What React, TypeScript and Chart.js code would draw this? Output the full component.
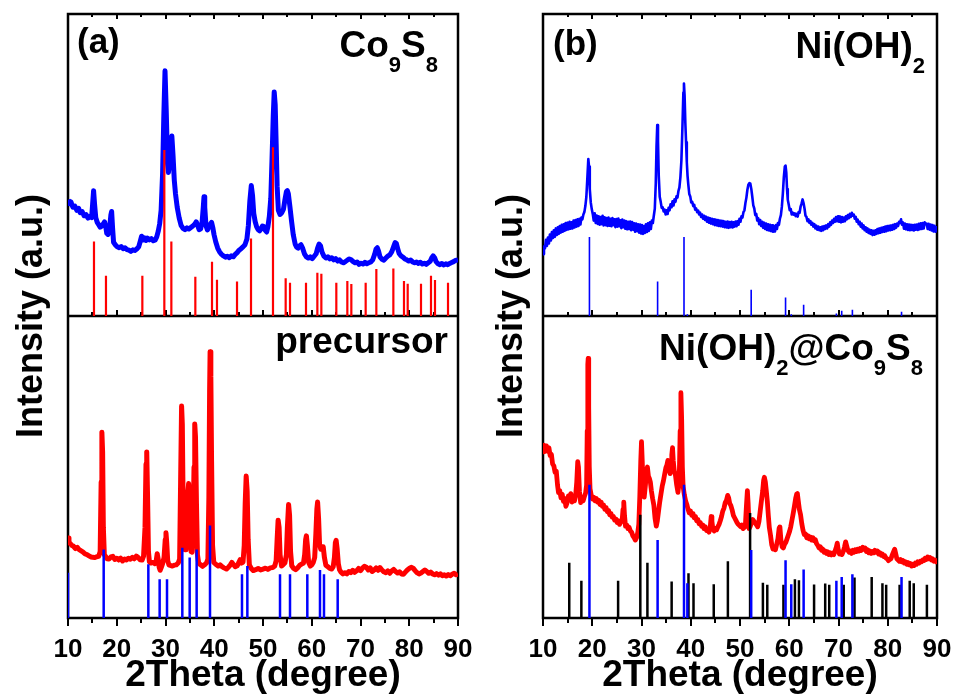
import React, { useEffect, useRef } from "react";
import { Chart, registerables } from "chart.js";

Chart.register(...registerables);

const FONT = "'Liberation Sans', Arial, Helvetica, sans-serif";

// ---------- axes ----------
const xTicks = [10, 15, 20, 25, 30, 35, 40, 45, 50, 55, 60, 65, 70, 75, 80, 85, 90];
const xTickLabels = ["10", "20", "30", "40", "50", "60", "70", "80", "90"];
const xTitle = "2Theta (degree)";
const yTitle = "Intensity (a.u.)";

// ---------- panel (a) ----------
const co9s8Curve: [number, number][] = [
  [10.0,38.5],[10.3,37.2],[10.6,37.8],[11.0,36.0],[11.4,36.4],[11.8,35.0],[12.2,35.6],[12.5,34.2],[12.9,34.6],[13.3,33.2],[13.7,33.6],[14.1,32.4],[14.5,33.0],[14.85,32.6],[15.05,37],[15.25,41.5],[15.45,37],[15.7,32.5],[16.0,31.0],[16.3,30.2],[16.6,29.4],[16.9,29.8],[17.2,30.4],[17.5,31.2],[17.75,29.5],[17.95,27.4],[18.2,27.0],[18.5,28.5],[18.8,33.5],[18.95,34.6],[19.15,29],[19.35,24.4],[19.7,23.6],[20.1,22.9],[20.5,22.6],[20.9,23.0],[21.3,22.3],[21.7,22.6],[22.1,22.0],[22.5,21.8],[22.9,21.4],[23.3,21.9],[23.7,21.7],[24.1,22.2],[24.5,22.9],[24.8,24.6],[25.1,26.4],[25.4,25.2],[25.7,25.9],[26.0,25.0],[26.3,25.8],[26.7,25.2],[27.1,25.6],[27.5,24.9],[27.9,25.2],[28.2,26.2],[28.5,28.0],[28.8,30.5],[29.1,35],[29.4,47],[29.65,66],[29.9,81.2],[30.15,68],[30.4,52],[30.6,47.5],[30.85,51],[31.1,58],[31.3,59.6],[31.55,53],[31.8,45],[32.05,40.5],[32.4,36],[32.8,32.5],[33.2,30],[33.6,29],[34.0,28.6],[34.4,29.2],[34.8,28.8],[35.2,29.3],[35.6,29.8],[36.0,30.4],[36.3,31.2],[36.6,30.0],[36.9,28.6],[37.2,28.8],[37.5,31.0],[37.75,36],[37.9,39.5],[38.05,36],[38.3,30],[38.6,28.5],[38.9,29.6],[39.2,30.4],[39.45,31.0],[39.7,29.3],[39.95,27.0],[40.3,24.6],[40.7,22.5],[41.1,21.2],[41.5,20.4],[41.9,19.9],[42.3,19.5],[42.7,19.8],[43.1,19.3],[43.5,19.9],[43.9,19.6],[44.3,20.4],[44.7,21.0],[45.1,21.8],[45.5,22.3],[45.9,22.9],[46.3,23.6],[46.7,25.5],[47.0,30],[47.3,38],[47.6,43.2],[47.85,40],[48.1,34],[48.4,31.2],[48.7,29.5],[49.0,28.6],[49.3,28.2],[49.6,28.9],[49.9,29.8],[50.15,29.6],[50.45,28.4],[50.75,27.8],[51.0,29.5],[51.3,33],[51.6,39],[51.85,52],[52.1,66],[52.3,74.2],[52.5,70],[52.7,57],[52.9,43],[53.15,35],[53.5,33.6],[53.85,34.2],[54.2,35.4],[54.5,38.5],[54.8,41.2],[55.0,41.5],[55.2,40.5],[55.5,36.5],[55.85,31.5],[56.2,27],[56.6,23.8],[56.9,22.8],[57.2,22.5],[57.5,23.2],[57.8,23.6],[58.1,22.6],[58.5,20.6],[58.9,19.6],[59.3,19.2],[59.7,19.6],[60.1,19.0],[60.5,19.8],[60.9,20.6],[61.2,22.5],[61.5,23.8],[61.8,23.2],[62.1,21.2],[62.5,19.8],[62.9,19.2],[63.3,19.6],[63.7,18.9],[64.1,19.3],[64.5,18.6],[64.9,19.0],[65.3,18.2],[65.7,18.6],[66.1,17.9],[66.5,17.6],[66.9,18.0],[67.3,18.5],[67.7,18.9],[68.1,18.6],[68.5,18.0],[68.9,17.6],[69.3,17.9],[69.7,17.1],[70.1,17.5],[70.5,17.2],[70.9,17.8],[71.3,17.3],[71.7,17.6],[72.1,17.9],[72.5,18.6],[72.9,20.4],[73.2,22.2],[73.45,22.6],[73.7,21.5],[74.0,19.6],[74.4,18.8],[74.8,18.5],[75.2,19.2],[75.6,19.8],[76.0,20.2],[76.4,21.2],[76.8,23.0],[77.1,24.3],[77.35,24.0],[77.6,22.5],[77.9,20.8],[78.3,19.9],[78.7,19.5],[79.1,18.9],[79.5,18.6],[79.9,18.2],[80.3,18.5],[80.7,17.9],[81.1,17.6],[81.5,17.9],[81.9,17.4],[82.3,17.8],[82.7,17.2],[83.1,17.5],[83.5,17.1],[83.9,17.6],[84.3,18.1],[84.6,19.2],[84.9,19.9],[85.2,19.3],[85.5,18.0],[85.9,17.3],[86.3,17.0],[86.7,17.4],[87.1,16.9],[87.5,17.3],[87.9,17.0],[88.3,17.4],[88.7,17.7],[89.1,18.0],[89.5,18.4],[90.0,18.6]
];

const precursorCurve: [number, number][] = [
  [10.0,26.5],[10.2,25.0],[10.5,24.6],[10.8,24.0],[11.1,23.8],[11.5,23.0],[11.9,23.4],[12.3,22.6],[12.7,22.2],[13.1,21.8],[13.5,21.2],[13.9,21.0],[14.3,20.6],[14.7,20.2],[15.1,20.1],[15.5,20.0],[15.9,20.3],[16.3,20.4],[16.6,22],[16.8,45],[16.95,61.5],[17.1,55],[17.25,30],[17.45,21],[17.7,20.4],[18.0,19.6],[18.4,19.5],[18.8,20.2],[19.2,20.4],[19.6,19.4],[20.0,19.8],[20.4,19.2],[20.8,19.8],[21.2,18.9],[21.6,19.5],[22.0,19.2],[22.4,19.8],[22.8,19.5],[23.2,20.1],[23.6,19.6],[24.0,20.5],[24.4,20.0],[24.8,19.3],[25.2,19.2],[25.5,20.5],[25.8,30],[26.0,51],[26.15,55.0],[26.3,42],[26.5,22],[26.7,18.6],[27.0,18.2],[27.4,18.4],[27.8,18.0],[28.1,19.0],[28.3,21.3],[28.5,19.5],[28.7,16.8],[28.9,15.8],[29.1,16.6],[29.4,18.0],[29.7,20],[29.95,26],[30.1,28.2],[30.25,25],[30.45,19],[30.7,17.6],[31.0,17.4],[31.4,17.2],[31.8,17.5],[32.2,17.6],[32.6,18.2],[32.9,19.5],[33.1,45],[33.3,70.2],[33.45,64],[33.6,40],[33.8,26],[34.0,22.6],[34.2,24],[34.45,33],[34.6,42],[34.75,44.5],[34.9,40],[35.05,30],[35.25,22],[35.45,21.8],[35.65,28],[35.85,50],[36.0,64.2],[36.15,60],[36.35,38],[36.55,21],[36.8,18.2],[37.2,17.6],[37.6,17.1],[38.0,17.6],[38.4,18.2],[38.7,19.5],[38.9,40],[39.05,75],[39.15,88.2],[39.3,80],[39.45,52],[39.65,24],[39.9,18.4],[40.3,17.8],[40.8,17.2],[41.2,17.6],[41.6,17.0],[42.0,16.6],[42.5,16.2],[42.9,16.8],[43.3,17.6],[43.6,18.4],[43.9,17.8],[44.3,17.0],[44.7,17.3],[45.0,18.2],[45.3,19.3],[45.6,18.2],[45.9,18.5],[46.15,24],[46.35,38],[46.55,47.0],[46.75,42],[46.95,26],[47.2,17.6],[47.6,16.4],[48.0,15.7],[48.5,16.0],[49.0,16.4],[49.5,15.9],[50.0,16.2],[50.5,16.5],[51.0,16.1],[51.5,16.6],[52.0,16.7],[52.4,17.2],[52.7,19],[52.9,26],[53.1,32.4],[53.3,30],[53.5,21],[53.8,17.2],[54.1,17.6],[54.5,18.3],[54.8,21],[55.0,30],[55.25,37.6],[55.45,34],[55.65,22],[55.9,17.3],[56.3,16.4],[56.7,16.0],[57.1,16.6],[57.5,17.4],[57.9,17.8],[58.3,18.2],[58.55,21],[58.75,26],[58.9,27.2],[59.1,24],[59.35,18.5],[59.7,17.2],[60.0,17.6],[60.3,18.4],[60.6,20],[60.85,28],[61.05,36],[61.2,38.4],[61.4,33],[61.6,24.5],[61.85,22.8],[62.1,23.6],[62.35,23.6],[62.6,20],[62.9,17.5],[63.3,17.0],[63.7,16.4],[64.1,16.2],[64.4,17.0],[64.65,20],[64.85,25],[65.0,25.7],[65.2,23],[65.45,18],[65.7,16.0],[66.0,15.2],[66.4,14.6],[66.8,15.0],[67.2,14.6],[67.6,15.4],[68.0,15.0],[68.4,15.8],[68.8,15.1],[69.2,15.6],[69.6,16.4],[70.0,15.7],[70.4,16.5],[70.8,17.1],[71.2,16.8],[71.6,15.9],[72.0,16.6],[72.4,15.4],[72.8,15.9],[73.2,16.6],[73.6,15.8],[74.0,16.7],[74.4,15.9],[74.8,15.3],[75.2,15.0],[75.6,15.6],[76.0,14.8],[76.4,15.6],[76.8,16.1],[77.2,15.4],[77.6,14.9],[78.0,15.3],[78.4,14.6],[78.8,14.5],[79.2,15.2],[79.6,15.9],[80.0,16.4],[80.4,16.8],[80.8,16.5],[81.2,15.7],[81.6,15.0],[82.0,14.6],[82.4,14.9],[82.8,15.4],[83.2,15.9],[83.6,15.4],[84.0,14.8],[84.4,15.2],[84.8,14.6],[85.2,14.3],[85.6,14.7],[86.0,14.2],[86.4,14.6],[86.8,14.0],[87.2,14.3],[87.6,13.9],[88.0,14.4],[88.4,14.0],[88.8,14.5],[89.2,14.8],[89.6,14.3],[90.0,14.6]
];

const co9s8RefPos = [15.33,17.79,25.25,29.76,31.2,36.12,39.54,40.56,44.67,47.54,52.05,54.65,55.54,58.82,61.15,61.97,65.04,67.3,68.12,71.06,73.25,76.74,78.92,79.68,82.41,84.46,85.28,87.95];
const co9s8RefA = [24.7,13.3,13.3,55.0,24.7,13.0,18.0,12.0,11.4,25.7,55.9,12.5,11.0,11.0,14.3,14.0,11.0,11.6,10.6,11.0,15.6,15.7,11.6,10.7,10.7,13.3,11.9,11.0];
const precursorRefPos = [10.0,17.32,26.48,28.8,30.31,33.45,34.96,36.39,39.13,45.69,46.79,53.49,55.54,59.09,61.69,62.51,65.32];
const precursorRefH = [15.0,22.7,17.8,12.8,12.8,23.3,20.0,22.7,30.6,14.5,17.2,14.5,14.5,14.5,15.9,14.5,12.8];

// ---------- panel (b) ----------
const niCurve: [number, number][] = [
  [10.0,20.5],[10.2,23.0],[10.4,22.4],[10.6,25.2],[10.8,23.2],[11.0,26.0],[11.2,24.0],[11.4,27.0],[11.6,25.0],[11.8,27.8],[12.0,25.8],[12.2,28.4],[12.4,26.2],[12.6,29.0],[12.8,26.8],[13.0,29.4],[13.2,27.2],[13.4,29.8],[13.6,27.6],[13.8,30.2],[14.0,27.9],[14.2,30.4],[14.4,28.2],[14.6,30.8],[14.8,28.5],[15.0,30.9],[15.2,28.7],[15.4,31.2],[15.6,28.9],[15.8,31.0],[16.0,29.0],[16.2,31.6],[16.4,29.3],[16.6,31.8],[16.8,29.6],[17.0,32.0],[17.2,29.8],[17.4,32.2],[17.6,30.3],[17.8,32.6],[18.0,32.0],[18.2,33.6],[18.4,34.4],[18.6,36.4],[18.8,39.4],[19.0,45.5],[19.2,52.0],[19.35,49.5],[19.5,42.0],[19.7,37.6],[19.9,35.4],
  [20.1,33.8],[20.3,31.6],[20.5,34.0],[20.7,30.8],[20.9,33.3],[21.1,30.5],[21.3,33.0],[21.5,30.2],[21.7,32.8],[21.9,30.4],[22.1,33.2],[22.3,30.0],[22.5,32.7],[22.7,30.1],[22.9,32.4],[23.1,29.8],[23.3,32.6],[23.5,29.9],[23.7,32.2],[23.9,29.7],[24.1,32.4],[24.3,30.1],[24.5,32.0],[24.7,29.4],[24.9,32.1],[25.1,29.6],[25.3,32.3],[25.5,29.7],[25.7,31.7],[25.9,29.1],[26.1,31.9],[26.3,29.4],[26.5,31.6],[26.7,28.9],[26.9,31.4],[27.1,28.7],[27.3,31.2],[27.5,28.8],[27.7,31.3],[27.9,28.4],[28.1,31.1],[28.3,28.6],[28.5,30.7],[28.7,27.9],[28.9,30.6],[29.1,28.1],[29.3,30.4],[29.5,27.6],[29.7,30.3],[29.9,27.3],[30.1,30.1],[30.3,27.2],[30.5,29.8],[30.7,27.5],[30.9,30.4],[31.1,27.8],[31.3,30.7],[31.5,28.2],[31.7,31.0],[31.9,28.8],[32.1,31.6],[32.3,30.8],[32.5,33.2],
  [32.7,35.5],[32.9,44.0],[33.05,56.0],[33.2,63.2],[33.35,58.0],[33.5,46.5],[33.7,39.5],[33.9,37.8],[34.1,35.8],[34.3,36.0],[34.5,34.6],[34.7,35.2],[34.9,33.6],[35.1,35.0],[35.3,33.8],[35.5,35.8],[35.7,35.0],[35.9,37.0],[36.1,36.0],[36.3,38.0],[36.5,36.6],[36.7,38.6],[36.9,37.8],[37.1,39.6],[37.3,39.2],[37.5,41.4],[37.7,42.6],[37.9,46.0],[38.1,51.5],[38.3,62.0],[38.5,74.0],[38.62,77.0],[38.75,73.0],[38.9,64.0],[39.05,57.5],[39.2,51.0],[39.35,46.4],[39.5,43.6],[39.7,40.4],[39.9,39.6],[40.1,37.6],[40.3,37.8],[40.5,36.4],[40.7,36.8],[40.9,35.2],[41.1,35.6],[41.3,34.4],[41.5,34.9],[41.7,33.6],[41.9,34.2],[42.1,32.8],[42.3,33.6],[42.5,32.2],[42.7,33.2],[42.9,31.8],[43.1,32.9],[43.3,31.2],[43.5,32.6],[43.7,30.9],[43.9,32.4],[44.1,30.6],[44.3,32.2],[44.5,30.4],[44.7,32.0],[44.9,30.1],[45.1,31.9],[45.3,30.0],[45.5,31.8],[45.7,29.8],[45.9,31.6],[46.1,29.7],[46.3,31.5],[46.5,29.6],[46.7,31.4],[46.9,29.4],[47.1,31.2],[47.3,29.3],[47.5,31.3],[47.7,29.2],[47.9,31.1],[48.1,29.4],[48.3,31.2],[48.5,29.3],[48.7,31.0],[48.9,29.6],[49.1,31.3],[49.3,29.7],[49.5,31.4],[49.7,30.2],[49.9,32.2],[50.1,31.2],[50.3,33.0],[50.5,32.6],[50.7,34.4],[50.9,35.0],[51.1,37.4],[51.3,39.2],[51.5,41.8],[51.7,43.5],[51.9,44.0],[52.1,43.8],[52.3,42.0],[52.5,39.4],[52.7,36.6],[52.9,35.6],[53.1,33.4],[53.3,33.8],[53.5,31.6],[53.7,32.4],[53.9,30.4],[54.1,31.8],[54.3,29.8],[54.5,31.2],[54.7,29.2],[54.9,30.9],[55.1,28.8],[55.3,30.6],[55.5,28.5],[55.7,30.4],[55.9,28.3],[56.1,30.2],[56.3,28.1],[56.5,30.0],[56.7,27.9],[56.9,29.8],[57.1,28.0],[57.3,30.1],[57.5,28.8],[57.7,30.8],[57.9,30.2],[58.1,32.2],[58.3,33.4],[58.5,36.2],[58.7,40.5],[58.9,46.0],[59.1,49.5],[59.25,49.8],[59.4,47.5],[59.55,42.0],[59.7,38.5],[59.9,36.8],[60.1,35.0],[60.3,35.4],[60.5,33.6],[60.7,34.2],[60.9,33.6],[61.1,34.0],[61.3,33.1],[61.5,33.8],[61.7,32.9],[61.9,34.4],[62.1,34.2],[62.3,36.2],[62.5,37.2],[62.7,38.6],[62.9,37.4],[63.1,35.6],[63.3,33.2],[63.5,32.8],[63.7,31.4],[63.9,32.0],[64.1,30.8],[64.3,31.4],[64.5,30.2],[64.7,30.8],[64.9,29.6],[65.1,30.4],[65.3,29.0],[65.5,29.9],[65.7,28.6],[65.9,29.6],[66.1,28.4],[66.3,29.4],[66.5,28.2],[66.7,29.6],[66.9,28.4],[67.1,29.8],[67.3,28.8],[67.5,30.0],[67.7,29.0],[67.9,30.4],[68.1,29.6],[68.3,31.0],[68.5,30.2],[68.7,31.6],[68.9,30.8],[69.1,32.2],[69.3,31.2],[69.5,32.8],[69.7,31.4],[69.9,33.0],[70.1,31.2],[70.3,32.9],[70.5,31.0],[70.7,32.8],[70.9,31.2],[71.1,32.6],[71.3,31.4],[71.5,33.0],[71.7,32.0],[71.9,33.4],[72.1,32.4],[72.3,33.8],[72.5,32.8],[72.7,34.2],[72.9,33.2],[73.1,33.6],[73.3,32.2],[73.5,32.8],[73.7,31.2],[73.9,31.9],[74.1,30.4],[74.3,31.2],[74.5,29.6],[74.7,30.6],[74.9,29.0],[75.1,30.0],[75.3,28.4],[75.5,29.4],[75.7,27.9],[75.9,29.0],[76.1,27.5],[76.3,28.6],[76.5,27.2],[76.7,28.4],[76.9,26.8],[77.1,28.2],[77.3,26.9],[77.5,28.4],[77.7,27.2],[77.9,28.8],[78.1,27.4],[78.3,29.0],[78.5,27.6],[78.7,29.2],[78.9,27.8],[79.1,29.4],[79.3,27.9],[79.5,29.6],[79.7,28.1],[79.9,29.8],[80.1,28.3],[80.3,29.9],[80.5,28.4],[80.7,30.0],[80.9,28.6],[81.1,30.2],[81.3,28.8],[81.5,30.4],[81.7,29.2],[81.9,30.6],[82.1,29.8],[82.3,31.2],[82.5,30.8],[82.7,32.0],[82.9,30.2],[83.1,31.0],[83.3,28.9],[83.5,30.6],[83.7,28.7],[83.9,30.4],[84.1,28.5],[84.3,30.3],[84.5,28.4],[84.7,30.2],[84.9,28.5],[85.1,30.1],[85.3,28.3],[85.5,30.2],[85.7,28.6],[85.9,30.3],[86.1,28.5],[86.3,30.5],[86.5,28.7],[86.7,30.7],[86.9,28.8],[87.1,30.8],[87.3,29.0],[87.5,31.0],[87.7,30.4],[87.9,30.6],[88.1,28.8],[88.3,30.5],[88.5,28.6],[88.7,30.3],[88.9,28.3],[89.1,30.1],[89.3,28.0],[89.5,29.9],[89.7,27.9],[89.9,29.4],[90.0,28.4]
];

const compositeCurve: [number, number][] = [
  [10.0,55.0],[10.2,57.2],[10.45,55.6],[10.7,57.0],[10.95,55.2],[11.2,56.4],[11.45,53.8],[11.7,54.2],[11.95,51.0],[12.2,50.4],[12.45,48.2],[12.7,48.6],[12.95,44.0],[13.15,41.5],[13.4,42.2],[13.65,39.8],[13.9,41.0],[14.15,38.6],[14.4,39.6],[14.65,37.0],[14.9,38.2],[15.15,40.4],[15.4,39.2],[15.65,41.2],[15.9,38.4],[16.15,40.2],[16.4,38.8],[16.65,41.0],[16.85,45.0],[17.05,51.8],[17.2,50.0],[17.4,42.0],[17.65,38.2],[17.9,39.6],[18.15,38.8],[18.4,40.2],[18.65,41.4],[18.85,44.0],[18.98,62.0],[19.1,84.0],[19.18,86.0],[19.28,70.0],[19.4,50.0],[19.55,42.8],[19.8,40.6],[20.05,39.4],[20.3,40.0],[20.55,38.8],[20.8,39.6],[21.05,38.4],[21.3,39.0],[21.55,37.6],[21.8,38.4],[22.05,37.0],[22.3,37.4],[22.55,36.0],[22.8,36.6],[23.05,35.2],[23.3,35.6],[23.55,34.2],[23.8,34.6],[24.05,33.4],[24.3,33.6],[24.55,32.4],[24.8,32.8],[25.05,31.6],[25.3,32.2],[25.55,31.0],[25.8,31.8],[26.05,32.0],[26.25,36.0],[26.4,38.4],[26.55,34.0],[26.75,30.4],[27.0,30.8],[27.25,29.6],[27.5,30.0],[27.75,28.8],[28.0,28.4],[28.25,27.2],[28.5,26.6],[28.75,25.8],[29.0,26.6],[29.25,28.4],[29.45,31.0],[29.65,40.0],[29.85,52.0],[30.0,58.4],[30.15,52.0],[30.35,42.0],[30.55,40.0],[30.8,44.0],[31.0,48.5],[31.2,50.0],[31.4,47.0],[31.6,46.2],[31.8,45.0],[32.0,42.2],[32.25,39.6],[32.5,37.4],[32.75,33.0],[33.0,30.4],[33.2,32.0],[33.45,35.2],[33.7,38.4],[33.95,41.0],[34.2,43.6],[34.45,45.4],[34.7,47.6],[34.95,49.8],[35.15,50.6],[35.35,52.2],[35.55,50.0],[35.8,47.8],[36.0,50.4],[36.15,54.0],[36.3,56.4],[36.45,52.0],[36.65,48.8],[36.9,47.2],[37.15,44.0],[37.4,41.6],[37.65,45.0],[37.85,62.0],[38.0,74.6],[38.15,66.0],[38.3,50.0],[38.45,43.6],[38.7,40.8],[38.95,38.8],[39.2,37.6],[39.45,36.0],[39.7,34.8],[39.95,35.4],[40.2,34.0],[40.45,34.6],[40.7,33.2],[40.95,33.6],[41.2,32.2],[41.45,32.6],[41.7,31.2],[41.95,31.6],[42.2,30.4],[42.45,30.8],[42.7,29.6],[42.95,30.2],[43.2,29.0],[43.45,29.2],[43.7,28.4],[43.95,30.0],[44.15,33.6],[44.3,32.0],[44.5,29.4],[44.75,28.8],[45.0,29.6],[45.25,29.2],[45.5,30.2],[45.75,31.0],[46.0,32.2],[46.25,33.6],[46.5,35.4],[46.75,36.4],[47.0,38.2],[47.25,39.0],[47.5,40.6],[47.7,39.8],[47.9,38.0],[48.15,37.2],[48.4,35.8],[48.65,34.0],[48.9,33.2],[49.15,32.4],[49.4,31.6],[49.65,31.0],[49.9,30.6],[50.15,30.2],[50.4,30.8],[50.65,29.6],[50.9,30.0],[51.1,31.0],[51.3,37.0],[51.5,42.2],[51.65,38.0],[51.85,29.6],[52.1,30.4],[52.35,31.8],[52.6,32.6],[52.85,32.0],[53.1,31.4],[53.35,30.8],[53.6,30.2],[53.85,32.0],[54.1,35.4],[54.35,38.8],[54.6,42.0],[54.8,45.6],[54.95,46.6],[55.15,45.0],[55.35,42.0],[55.55,38.6],[55.75,34.0],[55.95,30.0],[56.2,27.4],[56.45,24.2],[56.7,22.8],[56.95,23.6],[57.2,22.6],[57.45,24.4],[57.7,26.2],[57.95,29.8],[58.1,30.2],[58.3,26.0],[58.55,23.6],[58.8,23.2],[59.05,24.4],[59.3,25.0],[59.55,26.2],[59.8,27.4],[60.05,28.6],[60.3,30.2],[60.55,32.4],[60.8,34.6],[61.05,37.0],[61.3,39.6],[61.5,41.0],[61.65,41.2],[61.85,38.6],[62.05,36.0],[62.3,34.2],[62.55,31.2],[62.8,29.0],[63.05,27.6],[63.3,27.8],[63.55,26.6],[63.8,27.2],[64.05,26.2],[64.3,26.8],[64.55,25.8],[64.8,26.6],[65.05,25.6],[65.3,25.9],[65.55,24.6],[65.8,24.0],[66.05,23.2],[66.3,23.6],[66.55,22.4],[66.8,22.8],[67.05,21.8],[67.3,22.2],[67.55,21.4],[67.8,21.9],[68.05,21.0],[68.3,21.6],[68.55,20.9],[68.8,21.4],[69.05,21.0],[69.3,22.2],[69.55,23.4],[69.75,24.8],[69.95,22.6],[70.2,21.2],[70.45,21.6],[70.7,21.0],[70.95,22.0],[71.2,23.4],[71.45,25.2],[71.65,24.0],[71.9,22.4],[72.15,21.8],[72.4,22.2],[72.65,21.4],[72.9,22.4],[73.15,21.8],[73.4,22.6],[73.65,22.0],[73.9,22.8],[74.15,22.2],[74.4,23.0],[74.65,22.4],[74.9,23.4],[75.15,22.8],[75.4,23.2],[75.65,22.0],[75.9,22.6],[76.15,21.6],[76.4,22.2],[76.65,21.4],[76.9,22.0],[77.15,21.6],[77.4,22.4],[77.65,21.8],[77.9,22.2],[78.15,21.2],[78.4,21.6],[78.65,20.8],[78.9,21.2],[79.15,20.4],[79.4,20.6],[79.65,19.8],[79.9,19.6],[80.15,19.0],[80.4,19.4],[80.65,19.6],[80.9,20.8],[81.15,21.8],[81.4,22.8],[81.6,21.4],[81.85,19.6],[82.1,19.2],[82.35,18.8],[82.6,19.4],[82.85,18.6],[83.1,19.0],[83.35,18.2],[83.6,18.6],[83.85,17.8],[84.1,18.4],[84.35,17.6],[84.6,18.0],[84.85,17.2],[85.1,17.8],[85.35,17.4],[85.6,18.2],[85.85,17.8],[86.1,18.6],[86.35,18.2],[86.6,18.8],[86.85,18.6],[87.1,19.2],[87.35,19.0],[87.6,19.8],[87.85,19.4],[88.1,20.2],[88.35,19.6],[88.6,20.0],[88.85,19.2],[89.1,19.6],[89.35,18.8],[89.6,19.2],[89.85,18.6],[90.0,19.0]
];

const niRefPos = [19.43,33.27,38.63,39.31,52.27,59.25,60.41,62.92,69.57,70.65,72.82,82.8];
const niRefTop = [26.2,11.4,26.2,0.6,8.7,6.1,0.6,3.7,0.8,1.7,2.1,1.4];
const niRefBottom = [44.1,25.8,44.1,11.5,22.5,19.1,11.2,16.1,12.3,13.6,14.5,13.6];
const co9s8RefB = [18.3,12.3,12.3,34.2,18.3,12.1,14.8,11.5,11.2,18.8,34.8,11.7,11.0,11.0,12.8,12.5,11.1,11.4,11.0,11.0,13.4,13.6,11.5,11.0,11.0,12.3,11.5,11.0];

// ---------- labels ----------
type Part = [string, boolean];
const labelA = "(a)";
const labelB = "(b)";
const labelCo9S8: Part[] = [["Co", false], ["9", true], ["S", false], ["8", true]];
const labelPrecursor: Part[] = [["precursor", false]];
const labelNi: Part[] = [["Ni(OH)", false], ["2", true]];
const labelComposite: Part[] = [["Ni(OH)", false], ["2", true], ["@Co", false], ["9", true], ["S", false], ["8", true]];

// ---------- helpers ----------
function stickPoints(pos: number[], h: number[]) {
  const pts: { x: number; y: number | null }[] = [];
  pos.forEach((p, i) => {
    pts.push({ x: p, y: 0 }, { x: p, y: h[i] }, { x: p, y: null });
  });
  return pts;
}
function curvePoints(c: [number, number][]) {
  return c.map(([x, y]) => ({ x, y }));
}

function drawRich(ctx: CanvasRenderingContext2D, parts: Part[], right: number, base: number, size: number, subSize: number, drop: number) {
  const widths = parts.map(([t, sub]) => {
    ctx.font = `bold ${sub ? subSize : size}px ${FONT}`;
    return ctx.measureText(t).width;
  });
  const total = widths.reduce((a, b) => a + b, 0);
  let x = right - total;
  ctx.textAlign = "left";
  ctx.textBaseline = "alphabetic";
  parts.forEach(([t, sub], i) => {
    ctx.font = `bold ${sub ? subSize : size}px ${FONT}`;
    ctx.fillText(t, x, sub ? base + drop : base);
    x += widths[i];
  });
}

type PanelSpec = {
  letter: string;
  letterX: number;
  letterBase: number;
  topLabel: Part[];
  topRight: number;
  topBase: number;
  botLabel: Part[];
  botRight: number;
  botBase: number;
  yTitleX: number;
};

function makeDecor(spec: PanelSpec) {
  return {
    id: "decor",
    beforeDatasetsDraw(chart: any) {
      const { ctx, chartArea: a, scales } = chart;
      const xs = scales.x;
      const mid = scales.yBot.getPixelForValue(100);
      ctx.save();
      ctx.strokeStyle = "#000";
      ctx.lineWidth = 2;
      ctx.lineCap = "butt";
      for (const v of xTicks) {
        const px = Math.round(xs.getPixelForValue(v));
        const major = v % 10 === 0;
        ctx.beginPath();
        ctx.moveTo(px, a.bottom);
        ctx.lineTo(px, a.bottom + (major ? 8 : 5));
        ctx.moveTo(px, mid);
        ctx.lineTo(px, mid - (major ? 6 : 4));
        ctx.moveTo(px, a.top);
        ctx.lineTo(px, a.top + (major ? 5 : 3));
        ctx.stroke();
      }
      ctx.lineWidth = 2.5;
      ctx.strokeRect(a.left, a.top, a.right - a.left, a.bottom - a.top);
      ctx.beginPath();
      ctx.moveTo(a.left, mid);
      ctx.lineTo(a.right, mid);
      ctx.stroke();
      ctx.restore();
    },
    afterDraw(chart: any) {
      const { ctx, chartArea: a, scales } = chart;
      const xs = scales.x;
      ctx.save();
      ctx.fillStyle = "#000";
      ctx.font = `bold 26px ${FONT}`;
      ctx.textAlign = "center";
      ctx.textBaseline = "alphabetic";
      xTickLabels.forEach((t) => {
        ctx.fillText(t, xs.getPixelForValue(Number(t)), 657);
      });
      ctx.font = `bold 37px ${FONT}`;
      ctx.fillText(xTitle, (a.left + a.right) / 2, 686);
      ctx.save();
      ctx.translate(spec.yTitleX, (a.top + a.bottom) / 2);
      ctx.rotate(-Math.PI / 2);
      ctx.font = `bold 36px ${FONT}`;
      ctx.textAlign = "center";
      ctx.fillText(yTitle, 0, 0);
      ctx.restore();
      ctx.font = `bold 35px ${FONT}`;
      ctx.textAlign = "left";
      ctx.fillText(spec.letter, spec.letterX, spec.letterBase);
      drawRich(ctx, spec.topLabel, spec.topRight, spec.topBase, 37, 22, 15);
      drawRich(ctx, spec.botLabel, spec.botRight, spec.botBase, 37, 22, 15);
      ctx.restore();
    },
  };
}

function baseOptions(padLeft: number, padRight: number) {
  return {
    animation: false,
    responsive: false,
    maintainAspectRatio: false,
    devicePixelRatio: 1,
    events: [],
    layout: { padding: { left: padLeft, right: padRight, top: 14, bottom: 77 } },
    plugins: { legend: { display: false }, tooltip: { enabled: false }, title: { display: false } },
    elements: {
      point: { radius: 0, hoverRadius: 0 },
      line: { tension: 0, borderJoinStyle: "round", borderCapStyle: "butt", fill: false },
    },
    scales: {
      x: { type: "linear", min: 10, max: 90, display: false },
      yTop: { type: "linear", min: -100, max: 100, display: false },
      yBot: { type: "linear", min: 0, max: 200, display: false },
    },
  };
}

function configA() {
  return {
    type: "line",
    data: {
      datasets: [
        { label: "Co9S8 ref", data: stickPoints(co9s8RefPos, co9s8RefA), yAxisID: "yTop", borderColor: "#ff0000", borderWidth: 2.2, spanGaps: false, order: 0 },
        { label: "precursor ref", data: stickPoints(precursorRefPos, precursorRefH), yAxisID: "yBot", borderColor: "#0000ff", borderWidth: 2.5, spanGaps: false, order: 0 },
        { label: "Co9S8", data: curvePoints(co9s8Curve), yAxisID: "yTop", borderColor: "#0000ff", borderWidth: 5, order: 2 },
        { label: "precursor", data: curvePoints(precursorCurve), yAxisID: "yBot", borderColor: "#ff0000", borderWidth: 5, order: 2 },
      ],
    },
    options: baseOptions(68, 20),
    plugins: [
      makeDecor({
        letter: labelA, letterX: 77, letterBase: 53,
        topLabel: labelCo9S8, topRight: 438, topBase: 57,
        botLabel: labelPrecursor, botRight: 448, botBase: 353,
        yTitleX: 42,
      }),
    ],
  };
}

function configB() {
  return {
    type: "line",
    data: {
      datasets: [
        { label: "Ni(OH)2 ref top", data: stickPoints(niRefPos, niRefTop), yAxisID: "yTop", borderColor: "#0000ff", borderWidth: 1.6, spanGaps: false, order: 0 },
        { label: "Ni(OH)2 ref bottom", data: stickPoints(niRefPos, niRefBottom), yAxisID: "yBot", borderColor: "#0000ff", borderWidth: 2.5, spanGaps: false, order: 0 },
        { label: "Co9S8 ref bottom", data: stickPoints(co9s8RefPos, co9s8RefB), yAxisID: "yBot", borderColor: "#000000", borderWidth: 2.5, spanGaps: false, order: 1 },
        { label: "Ni(OH)2", data: curvePoints(niCurve), yAxisID: "yTop", borderColor: "#0000ff", borderWidth: 2.6, order: 2 },
        { label: "Ni(OH)2@Co9S8", data: curvePoints(compositeCurve), yAxisID: "yBot", borderColor: "#ff0000", borderWidth: 4.8, order: 2 },
      ],
    },
    options: baseOptions(65, 19),
    plugins: [
      makeDecor({
        letter: labelB, letterX: 75, letterBase: 55,
        topLabel: labelNi, topRight: 447, topBase: 58,
        botLabel: labelComposite, botRight: 445, botBase: 360,
        yTitleX: 44,
      }),
    ],
  };
}

function Panel({ left, make }: { left: number; make: () => any }) {
  const ref = useRef<HTMLCanvasElement | null>(null);
  useEffect(() => {
    if (!ref.current) return;
    const chart = new Chart(ref.current, make());
    return () => chart.destroy();
  }, [make]);
  return (
    <canvas
      ref={ref}
      width={478}
      height={695}
      style={{ position: "absolute", left, top: 0, width: 478, height: 695, display: "block" }}
    />
  );
}

export default function App() {
  return (
    <div style={{ position: "absolute", left: 0, top: 0, width: 956, height: 695, background: "#fff", overflow: "hidden" }}>
      <Panel left={0} make={configA} />
      <Panel left={478} make={configB} />
    </div>
  );
}
